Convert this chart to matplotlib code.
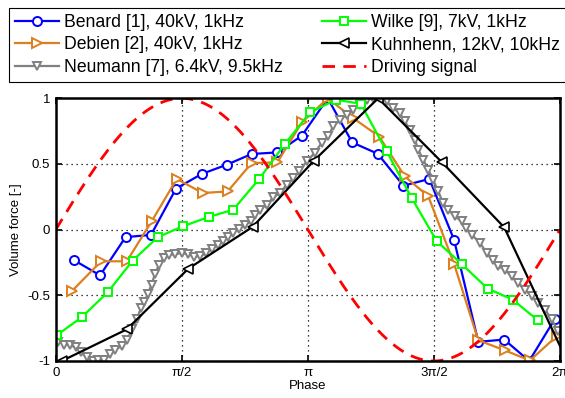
import numpy as np
import matplotlib
matplotlib.use("Agg")
import matplotlib.pyplot as plt

plt.rcParams['font.family'] = ['Liberation Sans', 'DejaVu Sans']
plt.rcParams['axes.unicode_minus'] = False

# phase values are given in units of pi

# Benard [1], 40kV, 1kHz
benard_phase = [0.073, 0.176, 0.277, 0.378, 0.477, 0.579, 0.678, 0.777, 0.879, 0.976,
                1.079, 1.176, 1.277, 1.379, 1.482, 1.580, 1.676, 1.779, 1.878, 1.980]
benard_force = [-0.233, -0.348, -0.057, -0.040, 0.312, 0.424, 0.494, 0.576, 0.588, 0.715,
                1.0, 0.664, 0.578, 0.335, 0.386, -0.078, -0.854, -0.837, -1.0, -0.679]

# Debien [2], 40kV, 1kHz
debien_phase = [0.066, 0.180, 0.282, 0.381, 0.480, 0.583, 0.682, 0.777, 0.879, 0.976,
                1.079, 1.180, 1.283, 1.385, 1.478, 1.580, 1.676, 1.782, 1.881, 1.987]
debien_force = [-0.464, -0.241, -0.241, 0.065, 0.386, 0.279, 0.291, 0.507, 0.512, 0.816,
                1.0, 0.849, 0.709, 0.405, 0.253, -0.261, -0.842, -0.920, -0.996, -0.811]

# Neumann [7], 6.4kV, 9.5kHz
neumann_phase = [0.009, 0.033, 0.057, 0.082, 0.100, 0.124, 0.146, 0.168, 0.192, 0.215,
                 0.235, 0.261, 0.283, 0.303, 0.322, 0.338, 0.352, 0.366, 0.380, 0.394,
                 0.410, 0.428, 0.449, 0.473, 0.499, 0.523, 0.548, 0.572, 0.598, 0.620,
                 0.642, 0.663, 0.683, 0.705, 0.727, 0.751, 0.775, 0.790, 0.810, 0.837,
                 0.863, 0.890, 0.916, 0.942, 0.966, 0.995, 1.028, 1.055, 1.081, 1.101,
                 1.128, 1.154, 1.180, 1.207, 1.233, 1.260, 1.286, 1.313, 1.339, 1.365,
                 1.385, 1.405, 1.425, 1.438, 1.458, 1.478, 1.497, 1.517, 1.536, 1.557,
                 1.584, 1.610, 1.627, 1.650, 1.683, 1.709, 1.735, 1.755, 1.782, 1.808,
                 1.835, 1.861, 1.888, 1.914, 1.941, 1.967, 1.993]
neumann_force = [-0.852, -0.875, -0.882, -0.897, -0.935, -0.973, -1.0, -0.996, -0.996, -0.947,
                 -0.916, -0.886, -0.837, -0.760, -0.684, -0.593, -0.548, -0.487, -0.418, -0.335,
                 -0.266, -0.213, -0.194, -0.186, -0.179, -0.186, -0.205, -0.202, -0.179, -0.145,
                 -0.114, -0.087, -0.057, -0.027, 0.008, 0.034, 0.068, 0.108, 0.152, 0.190,
                 0.246, 0.279, 0.342, 0.393, 0.443, 0.520, 0.586, 0.662, 0.712, 0.788,
                 0.836, 0.875, 0.913, 0.951, 0.989, 1.0, 1.0, 0.976, 0.925, 0.887,
                 0.824, 0.760, 0.684, 0.608, 0.532, 0.456, 0.380, 0.292, 0.205, 0.152,
                 0.101, 0.063, 0.015, -0.038, -0.101, -0.177, -0.228, -0.279, -0.304, -0.355,
                 -0.405, -0.456, -0.507, -0.557, -0.608, -0.684, -0.773]

# Wilke [9], 7kV, 1kHz
wilke_phase = [0.004, 0.103, 0.206, 0.305, 0.405, 0.506, 0.608, 0.704, 0.807, 0.909,
               1.009, 1.112, 1.210, 1.313, 1.412, 1.511, 1.610, 1.713, 1.812, 1.912]
wilke_force = [-0.804, -0.667, -0.477, -0.236, -0.057, 0.027, 0.097, 0.152, 0.386, 0.652,
               0.894, 0.989, 0.958, 0.595, 0.241, -0.087, -0.261, -0.449, -0.532, -0.690]

# Kuhnhenn, 12kV, 10kHz
kuhn_phase = [0.024, 0.282, 0.526, 0.781, 1.024, 1.279, 1.531, 1.779, 2.028]
kuhn_force = [-1.0, -0.759, -0.297, 0.021, 0.525, 1.0, 0.515, 0.017, -1.0]

# driving signal: one period of a unit sine
drive_phase = np.linspace(0, 2, 400)
drive_amp = 1.0

xtick_pos = [0, 0.5, 1, 1.5, 2]
xtick_labels = ['0', 'π/2', 'π', '3π/2', '2π']
ytick_pos = [-1, -0.5, 0, 0.5, 1]
ytick_labels = ['-1', '-0.5', '0', '0.5', '1']

fig = plt.figure(figsize=(5.65, 3.98), dpi=100)
ax = fig.add_axes([0.0986, 0.093, 0.8925, 0.660])

pi = np.pi
lw = 1.6
ax.plot(np.array(benard_phase) * pi, benard_force, '-o', color='#0000ff', lw=lw,
        ms=6.5, mfc='white', mew=1.4, label='Benard [1], 40kV, 1kHz')
ax.plot(np.array(debien_phase) * pi, debien_force, '->', color='#dc7f1c', lw=lw,
        ms=7, mfc='white', mew=1.4, label='Debien [2], 40kV, 1kHz')
ax.plot(np.array(neumann_phase) * pi, neumann_force, '-v', color='#808080', lw=lw,
        ms=6, mfc='white', mew=1.4, label='Neumann [7], 6.4kV, 9.5kHz')
ax.plot(np.array(wilke_phase) * pi, wilke_force, '-s', color='#00ff00', lw=lw,
        ms=5.5, mfc='white', mew=1.4, label='Wilke [9], 7kV, 1kHz')
ax.plot(np.array(kuhn_phase) * pi, kuhn_force, '-<', color='black', lw=lw,
        ms=7, mfc='white', mew=1.2, label='Kuhnhenn, 12kV, 10kHz')
ax.plot(drive_phase * pi, drive_amp * np.sin(drive_phase * pi), '--', color='#ff0000',
        lw=2.0, dashes=(4.5, 3.0), label='Driving signal')

ax.set_xlim(0, 2 * pi)
ax.set_ylim(-1, 1)
ax.set_xticks(np.array(xtick_pos) * pi)
ax.set_xticklabels(xtick_labels)
ax.set_yticks(ytick_pos)
ax.set_yticklabels(ytick_labels)
ax.tick_params(direction='in', top=True, right=True, length=4, width=1.2,
               labelsize=9.5, pad=4)
ax.grid(True, color='black', linestyle=(0, (1, 3)), linewidth=0.9)
for s in ax.spines.values():
    s.set_linewidth(1.8)
ax.set_xlabel('Phase', fontsize=9.5, labelpad=1)
ax.set_ylabel('Volume force [-]', fontsize=9.5, labelpad=4)

leg = fig.legend(loc='upper left', ncol=2,
                 bbox_to_anchor=(8.7 / 565, 1 - 8 / 398),
                 fontsize=12.7, frameon=True, fancybox=False, framealpha=1,
                 edgecolor='black', handlelength=2.5, handletextpad=0.3,
                 labelspacing=0.3, borderpad=0.35, borderaxespad=0,
                 columnspacing=2.2)
leg.get_frame().set_linewidth(0.8)

fig.savefig('out.png', dpi=100)
